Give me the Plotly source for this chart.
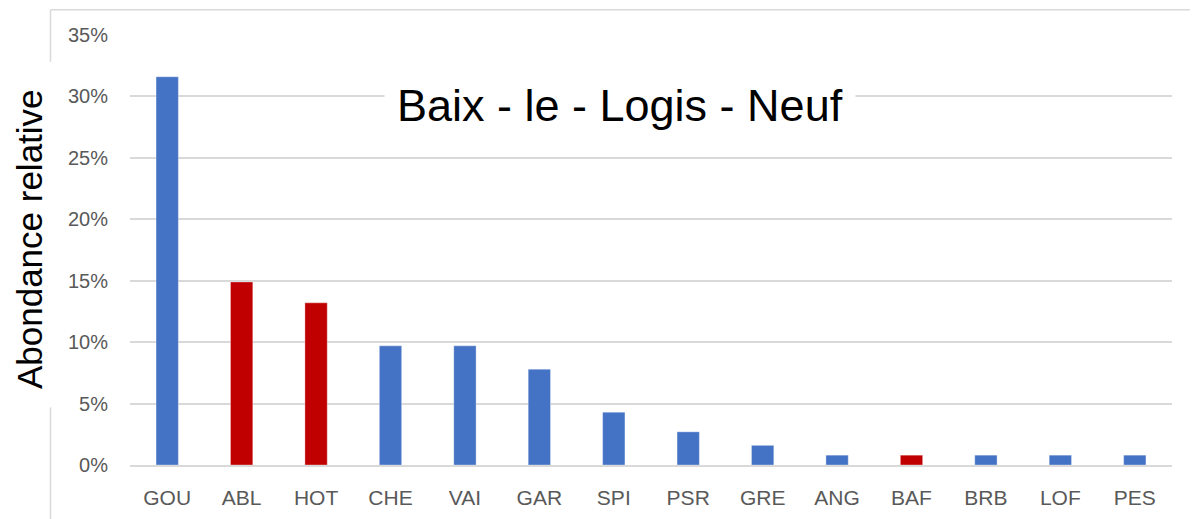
import plotly.graph_objects as go

categories = ["GOU", "ABL", "HOT", "CHE", "VAI", "GAR", "SPI", "PSR", "GRE", "ANG", "BAF", "BRB", "LOF", "PES"]
values = [0.316, 0.149, 0.132, 0.097, 0.097, 0.078, 0.043, 0.027, 0.016, 0.008, 0.008, 0.008, 0.008, 0.008]
highlight = ["ABL", "HOT", "BAF"]
tick_vals = [0, 0.05, 0.10, 0.15, 0.20, 0.25, 0.30, 0.35]
tick_text = ["0%", "5%", "10%", "15%", "20%", "25%", "30%", "35%"]
title_text = "Baix - le - Logis - Neuf"
ytitle_text = "Abondance relative"

BLUE = "#4472C4"
RED = "#C00000"
colors = [RED if c in highlight else BLUE for c in categories]

fig = go.Figure(go.Bar(
    x=categories, y=values,
    marker=dict(color=colors, line=dict(color="rgba(255,255,255,0.35)", width=1)),
))

OFFX, OFFY = 8, 6  # page body offset
W, H = 1198 - OFFX, 519 - OFFY
ml, mr, mt, mb = 130 - OFFX, 26, 33 - OFFY, 53
pw, ph = W - ml - mr, H - mt - mb

def px_x(sx):
    return (sx - OFFX - ml) / pw

def px_y(sy):
    return (H - mb - (sy - OFFY)) / ph

BORDER = dict(color="#d9d9d9", width=1.5)

def seg(x0, y0, x1, y1):
    return dict(type="line", xref="paper", yref="paper",
                x0=px_x(x0), y0=px_y(y0), x1=px_x(x1), y1=px_y(y1),
                line=BORDER, layer="below")

fig.update_layout(
    width=W, height=H,
    margin=dict(l=ml, r=mr, t=mt, b=mb, pad=0),
    paper_bgcolor="white", plot_bgcolor="white",
    bargap=0.70,
    showlegend=False,
    font=dict(family="Liberation Sans, Arial, sans-serif", color="#595959"),
    xaxis=dict(
        type="category",
        showgrid=False,
        showline=True, linecolor="#d9d9d9", linewidth=1.5,
        ticks="outside", ticklen=13, tickcolor="rgba(0,0,0,0)",
        tickfont=dict(size=21, color="#595959"),
        zeroline=False,
    ),
    yaxis=dict(
        range=[0, 0.35],
        tickvals=tick_vals, ticktext=tick_text,
        showgrid=True, gridcolor="#d9d9d9", gridwidth=1.5,
        zeroline=False, showline=False,
        ticks="outside", ticklen=17, tickcolor="rgba(0,0,0,0)",
        tickfont=dict(size=20, color="#595959"),
    ),
    shapes=[
        seg(50.5, 7.5, 1230, 7.5),
        seg(50.5, 7.5, 50.5, 60),
        seg(50.5, 408, 50.5, 540),
    ],
    annotations=[
        dict(
            text=title_text, xref="paper", yref="paper",
            x=px_x(620), y=px_y(104), xanchor="center", yanchor="middle",
            showarrow=False, bgcolor="white", borderpad=12,
            font=dict(family="Liberation Sans, Arial", size=45, color="black"),
        ),
        dict(
            text=ytitle_text, xref="paper", yref="paper",
            x=px_x(9), y=px_y(239), xanchor="left", yanchor="middle",
            textangle=-90, showarrow=False, borderpad=0,
            font=dict(family="Liberation Sans, Arial", size=35, color="black"),
        ),
    ],
)

fig.write_html("out.html")
